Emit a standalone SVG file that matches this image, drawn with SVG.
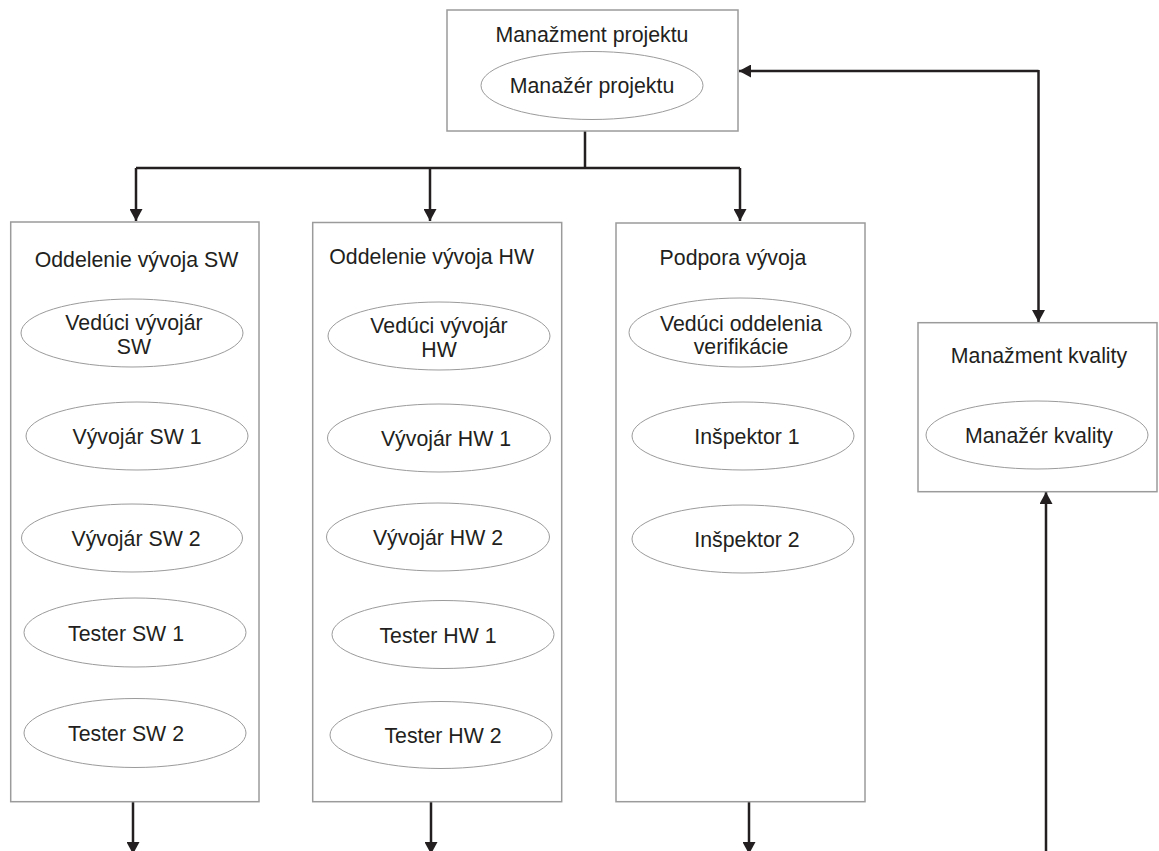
<svg xmlns="http://www.w3.org/2000/svg" width="1159" height="851" viewBox="0 0 1159 851">
<defs>
<marker id="arr" viewBox="0 0 12 13" refX="12" refY="6.5" markerWidth="12" markerHeight="13" markerUnits="userSpaceOnUse" orient="auto">
<path d="M0,0 L12,6.5 L0,13 Z" fill="#231f20"/>
</marker>
</defs>
<style>
.box{fill:#fff;stroke:#9b9b9b;stroke-width:1.5}
.ell{fill:#fff;stroke:#9b9b9b;stroke-width:1}
.t{font-family:"Liberation Sans",Arial,sans-serif;font-size:21.3px;fill:#231f20;text-anchor:middle}
.c{fill:none;stroke:#231f20;stroke-width:2.5}
</style>
<rect width="1159" height="851" fill="#fff"/>
<g id="connectors">
<path class="c" d="M585,131 V168 M136,168 H740"/>
<path class="c" d="M136,168 V221" marker-end="url(#arr)"/>
<path class="c" d="M430,168 V221" marker-end="url(#arr)"/>
<path class="c" d="M740,168 V221" marker-end="url(#arr)"/>
<path class="c" d="M1038.5,71 H739" marker-end="url(#arr)"/>
<path class="c" d="M1038.5,70 V322" marker-end="url(#arr)"/>
<path class="c" d="M1046,851 V492" marker-end="url(#arr)"/>
<path class="c" d="M133,802 V854" marker-end="url(#arr)"/>
<path class="c" d="M431,802 V854" marker-end="url(#arr)"/>
<path class="c" d="M749,802 V854" marker-end="url(#arr)"/>
</g>
<g id="manazment-projektu">
<rect class="box" x="447" y="10" width="291" height="121"/>
<text class="t" x="592" y="41.5">Manažment projektu</text>
<g id="manazer-projektu">
<ellipse class="ell" cx="592" cy="85.5" rx="111" ry="34"/>
<text class="t" x="592" y="92.5">Manažér projektu</text>
</g>
</g>
<g id="oddelenie-sw">
<rect class="box" x="10.7" y="222" width="248.3" height="579.7"/>
<text class="t" x="136.5" y="266.5">Oddelenie vývoja SW</text>
<g id="veduci-sw"><ellipse class="ell" cx="132" cy="333" rx="111" ry="34"/>
<text class="t" x="134" y="330">Vedúci vývojár</text><text class="t" x="134" y="354">SW</text></g>
<g id="vyvojar-sw-1"><ellipse class="ell" cx="137" cy="436" rx="111" ry="34"/><text class="t" x="137" y="444">Vývojár SW 1</text></g>
<g id="vyvojar-sw-2"><ellipse class="ell" cx="132" cy="538" rx="110.5" ry="34"/><text class="t" x="136" y="546">Vývojár SW 2</text></g>
<g id="tester-sw-1"><ellipse class="ell" cx="135" cy="632.5" rx="111" ry="34.5"/><text class="t" x="126" y="640.5">Tester SW 1</text></g>
<g id="tester-sw-2"><ellipse class="ell" cx="135" cy="733" rx="111" ry="34.5"/><text class="t" x="126" y="741">Tester SW 2</text></g>
</g>
<g id="oddelenie-hw">
<rect class="box" x="312.7" y="222.5" width="249" height="579.2"/>
<text class="t" x="431.7" y="264">Oddelenie vývoja HW</text>
<g id="veduci-hw"><ellipse class="ell" cx="439" cy="336" rx="111" ry="34"/>
<text class="t" x="439" y="333">Vedúci vývojár</text><text class="t" x="439" y="357">HW</text></g>
<g id="vyvojar-hw-1"><ellipse class="ell" cx="439" cy="438" rx="111.5" ry="34"/><text class="t" x="446" y="446">Vývojár HW 1</text></g>
<g id="vyvojar-hw-2"><ellipse class="ell" cx="438" cy="537" rx="111.5" ry="34"/><text class="t" x="438" y="545">Vývojár HW 2</text></g>
<g id="tester-hw-1"><ellipse class="ell" cx="443" cy="634.5" rx="111" ry="34"/><text class="t" x="438" y="642.5">Tester HW 1</text></g>
<g id="tester-hw-2"><ellipse class="ell" cx="441" cy="735" rx="111" ry="33.5"/><text class="t" x="443" y="743">Tester HW 2</text></g>
</g>
<g id="podpora-vyvoja">
<rect class="box" x="616" y="223" width="249" height="578.7"/>
<text class="t" x="733" y="265">Podpora vývoja</text>
<g id="veduci-verifikacie"><ellipse class="ell" cx="740" cy="332.5" rx="111" ry="34.5"/>
<text class="t" x="741" y="331">Vedúci oddelenia</text><text class="t" x="741" y="354">verifikácie</text></g>
<g id="inspektor-1"><ellipse class="ell" cx="743" cy="436" rx="111" ry="34"/><text class="t" x="747" y="444">Inšpektor 1</text></g>
<g id="inspektor-2"><ellipse class="ell" cx="743" cy="539" rx="111" ry="34"/><text class="t" x="747" y="547">Inšpektor 2</text></g>
</g>
<g id="manazment-kvality">
<rect class="box" x="918" y="322.7" width="239" height="169"/>
<text class="t" x="1039" y="363">Manažment kvality</text>
<g id="manazer-kvality"><ellipse class="ell" cx="1037" cy="435" rx="111" ry="34"/><text class="t" x="1039" y="443">Manažér kvality</text></g>
</g>
</svg>
